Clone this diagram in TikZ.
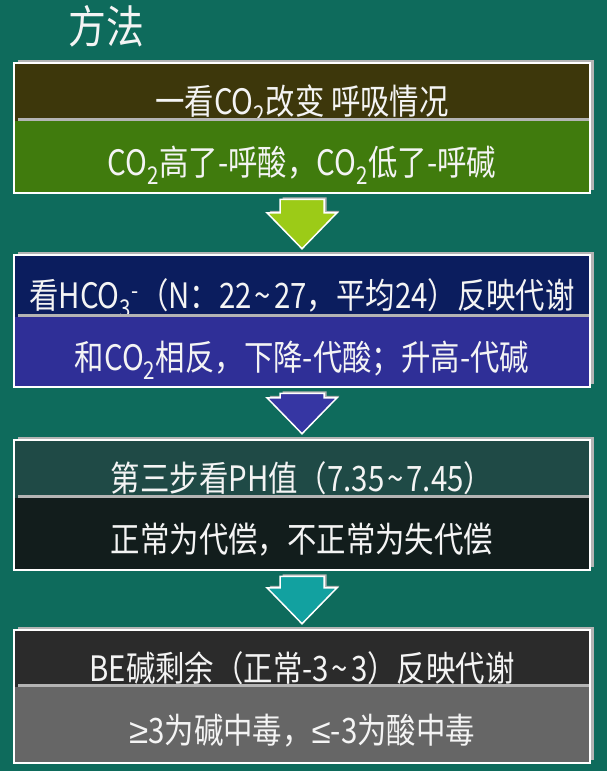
\documentclass[tikz,border=0pt]{standalone}
\usepackage{fontspec}
\setmainfont{Noto Sans CJK SC}[FakeStretch=0.84]
\newfontfamily\relsym{Liberation Sans}
\usepackage{tikz}
\usetikzlibrary{positioning}
\usetikzlibrary{fit}
\usetikzlibrary{calc}
\usetikzlibrary{shadows}

\definecolor{boardgreen}{HTML}{0E6B5C}
\definecolor{shadowgray}{HTML}{B4B4B4}
\definecolor{chalk}{HTML}{F4F4F4}
\definecolor{oliveHead}{HTML}{3D370B}
\definecolor{oliveBody}{HTML}{407B0D}
\definecolor{oliveArrow}{HTML}{9CCB17}
\definecolor{navyHead}{HTML}{0B1D5E}
\definecolor{navyBody}{HTML}{2F2F97}
\definecolor{navyArrow}{HTML}{3636A3}
\definecolor{tealHead}{HTML}{1F4A46}
\definecolor{tealBody}{HTML}{121D1C}
\definecolor{tealArrow}{HTML}{12A1A0}
\definecolor{grayHead}{HTML}{2B2B2B}
\definecolor{grayBody}{HTML}{666666}

\newcommand{\wave}{\kern3pt\textasciitilde\kern3pt}

\tikzset{
% one row of a step box
row/.style={rectangle, minimum width=576, inner sep=0, outer sep=0,
  text=chalk, font=\fontsize{35}{35}\selectfont,
  drop shadow={shadow xshift=3.5, shadow yshift=-3.5, fill=shadowgray, opacity=1}},
headrow/.style={row, text height=47pt, text depth=2pt},
bodyrow/.style={row, text height=39pt, text depth=2pt},
% white frame round both rows
stepframe/.style={rectangle, draw=white, line width=2.5, inner sep=0},
% block arrow between steps
flowarrow/.style={draw=white, line width=1.5, line join=miter,
  drop shadow={shadow xshift=2.5, shadow yshift=-2, fill=shadowgray, opacity=1}}
}

\begin{document}
\begin{tikzpicture}[x=1pt, y=-1pt]
  \fill[boardgreen] (0,0) rectangle (607,771);
  \useasboundingbox (0,0) rectangle (607,771);

  \node[text=chalk, font=\fontsize{45}{45}\selectfont] (title) at (106,26) {方法};

  \node[headrow, fill=oliveHead, minimum height=58, anchor=north] (stepA-head) at (302,63) {一看CO\textsubscript{2}改变 呼吸情况};
  \node[bodyrow, fill=oliveBody, minimum height=72, below=0 of stepA-head] (stepA-body) {CO\textsubscript{2}高了-呼酸，CO\textsubscript{2}低了-呼碱};
  \node[stepframe, fit=(stepA-head)(stepA-body)] (stepA) {};

  \node[headrow, fill=navyHead, minimum height=62, anchor=north] (stepB-head) at (302,255) {看HCO\textsubscript{3}\textsuperscript{-}（N：22\wave 27，平均24）反映代谢};
  \node[bodyrow, fill=navyBody, minimum height=70, below=0 of stepB-head] (stepB-body) {和CO\textsubscript{2}相反，下降-代酸；升高-代碱};
  \node[stepframe, fit=(stepB-head)(stepB-body)] (stepB) {};

  \node[headrow, fill=tealHead, minimum height=58, anchor=north] (stepC-head) at (302,440) {第三步看PH值（7.35\wave 7.45）};
  \node[bodyrow, fill=tealBody, minimum height=72, below=0 of stepC-head] (stepC-body) {正常为代偿，不正常为失代偿};
  \node[stepframe, fit=(stepC-head)(stepC-body)] (stepC) {};

  \node[headrow, fill=grayHead, minimum height=57, anchor=north] (stepD-head) at (302,630) {BE碱剩余（正常-3\wave 3）反映代谢};
  \node[bodyrow, fill=grayBody, minimum height=76, below=0 of stepD-head] (stepD-body) {{\relsym ≥}3为碱中毒，{\relsym ≤}-3为酸中毒};
  \node[stepframe, fit=(stepD-head)(stepD-body)] (stepD) {};

  \foreach \from/\to/\col in {stepA/stepB/oliveArrow, stepB/stepC/navyArrow, stepC/stepD/tealArrow}
    \draw[flowarrow, fill=\col] ($(\from.south)+(-22,5)$) -- ($(\from.south)+(22,5)$)
      -- ($(\to.north)+(22,-41)$) -- ($(\to.north)+(35,-41)$) -- ($(\to.north)+(0,-5)$)
      -- ($(\to.north)+(-35,-41)$) -- ($(\to.north)+(-22,-41)$) -- cycle;
\end{tikzpicture}
\end{document}
